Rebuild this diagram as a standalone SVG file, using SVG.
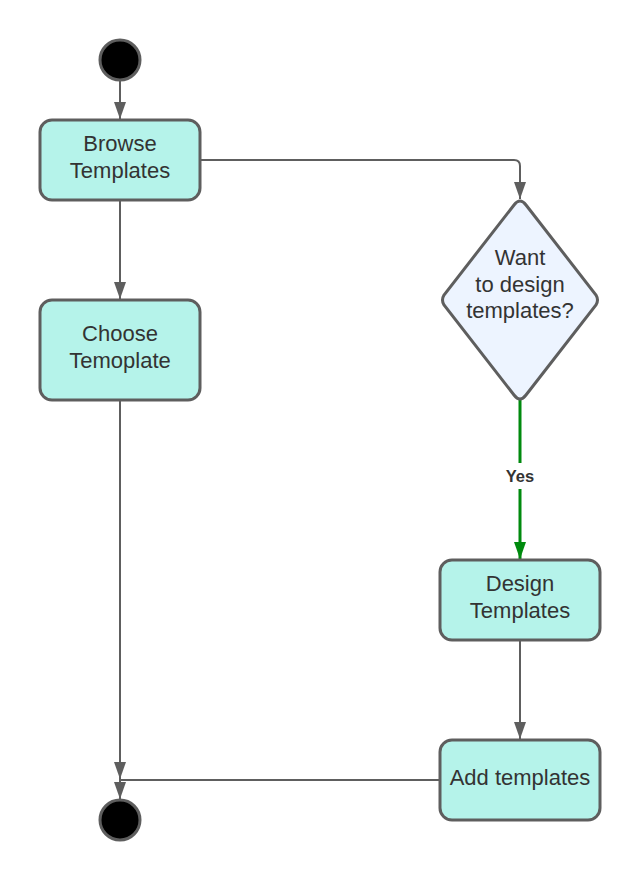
<svg xmlns="http://www.w3.org/2000/svg" width="640" height="880" viewBox="0 0 640 880">
<defs>
<style>
.node{fill:#b5f3ea;stroke:#5e5e5e;stroke-width:3}
.dec{fill:#edf4ff;stroke:#5e5e5e;stroke-width:3}
.term{fill:#000;stroke:#5e5e5e;stroke-width:3}
.t{font-family:"Liberation Sans",Arial,sans-serif;font-size:22px;fill:#333;text-anchor:middle}
.lbl{font-family:"Liberation Sans",Arial,sans-serif;font-size:16.5px;font-weight:bold;fill:#333;text-anchor:middle}
.c{fill:none;stroke:#5e5e5e;stroke-width:2}
.g{fill:none;stroke:#008a0e;stroke-width:3}
</style>
<marker id="ah" markerWidth="17" markerHeight="12" refX="17" refY="6" orient="auto" markerUnits="userSpaceOnUse" viewBox="0 0 17 12"><path d="M0,0 L17,6 L0,12 z" fill="#5e5e5e"/></marker>
<marker id="ag" markerWidth="17" markerHeight="12" refX="17" refY="6" orient="auto" markerUnits="userSpaceOnUse" viewBox="0 0 17 12"><path d="M0,0 L17,6 L0,12 z" fill="#008a0e"/></marker>
</defs>
<rect width="640" height="880" fill="#fff"/>
<g id="connectors">
<path class="c" d="M120,80 V119" marker-end="url(#ah)"/>
<path class="c" d="M120,200 V299" marker-end="url(#ah)"/>
<path class="c" d="M200,160 H514 Q520,160 520,166 V199" marker-end="url(#ah)"/>
<path class="g" d="M520,400 V463 M520,489 V559" marker-end="url(#ag)"/>
<text class="lbl" x="520" y="482">Yes</text>
<path class="c" d="M520,640 V739" marker-end="url(#ah)"/>
<path class="c" d="M120,400 V779" marker-end="url(#ah)"/>
<path class="c" d="M440,780 H120 V799" marker-end="url(#ah)"/>
</g>
<g id="start"><circle class="term" cx="120" cy="60" r="20"/></g>
<g id="browse"><rect class="node" x="40" y="120" width="160" height="80" rx="12"/><text class="t" x="120" y="151">Browse</text><text class="t" x="120" y="178">Templates</text></g>
<g id="choose"><rect class="node" x="40" y="300" width="160" height="100" rx="12"/><text class="t" x="120" y="341">Choose</text><text class="t" x="120" y="368">Temoplate</text></g>
<g id="decision"><path class="dec" d="M520,201 Q523,201 526,205 L596,295 Q599,300 596,305 L526,395 Q523,399 520,399 Q517,399 514,395 L444,305 Q441,300 444,295 L514,205 Q517,201 520,201 z"/><text class="t" x="520" y="265">Want</text><text class="t" x="520" y="292">to design</text><text class="t" x="520" y="318">templates?</text></g>
<g id="design"><rect class="node" x="440" y="560" width="160" height="80" rx="12"/><text class="t" x="520" y="591">Design</text><text class="t" x="520" y="618">Templates</text></g>
<g id="add"><rect class="node" x="440" y="740" width="160" height="80" rx="12"/><text class="t" x="520" y="785">Add templates</text></g>
<g id="end"><circle class="term" cx="120" cy="820" r="20"/></g>
</svg>
